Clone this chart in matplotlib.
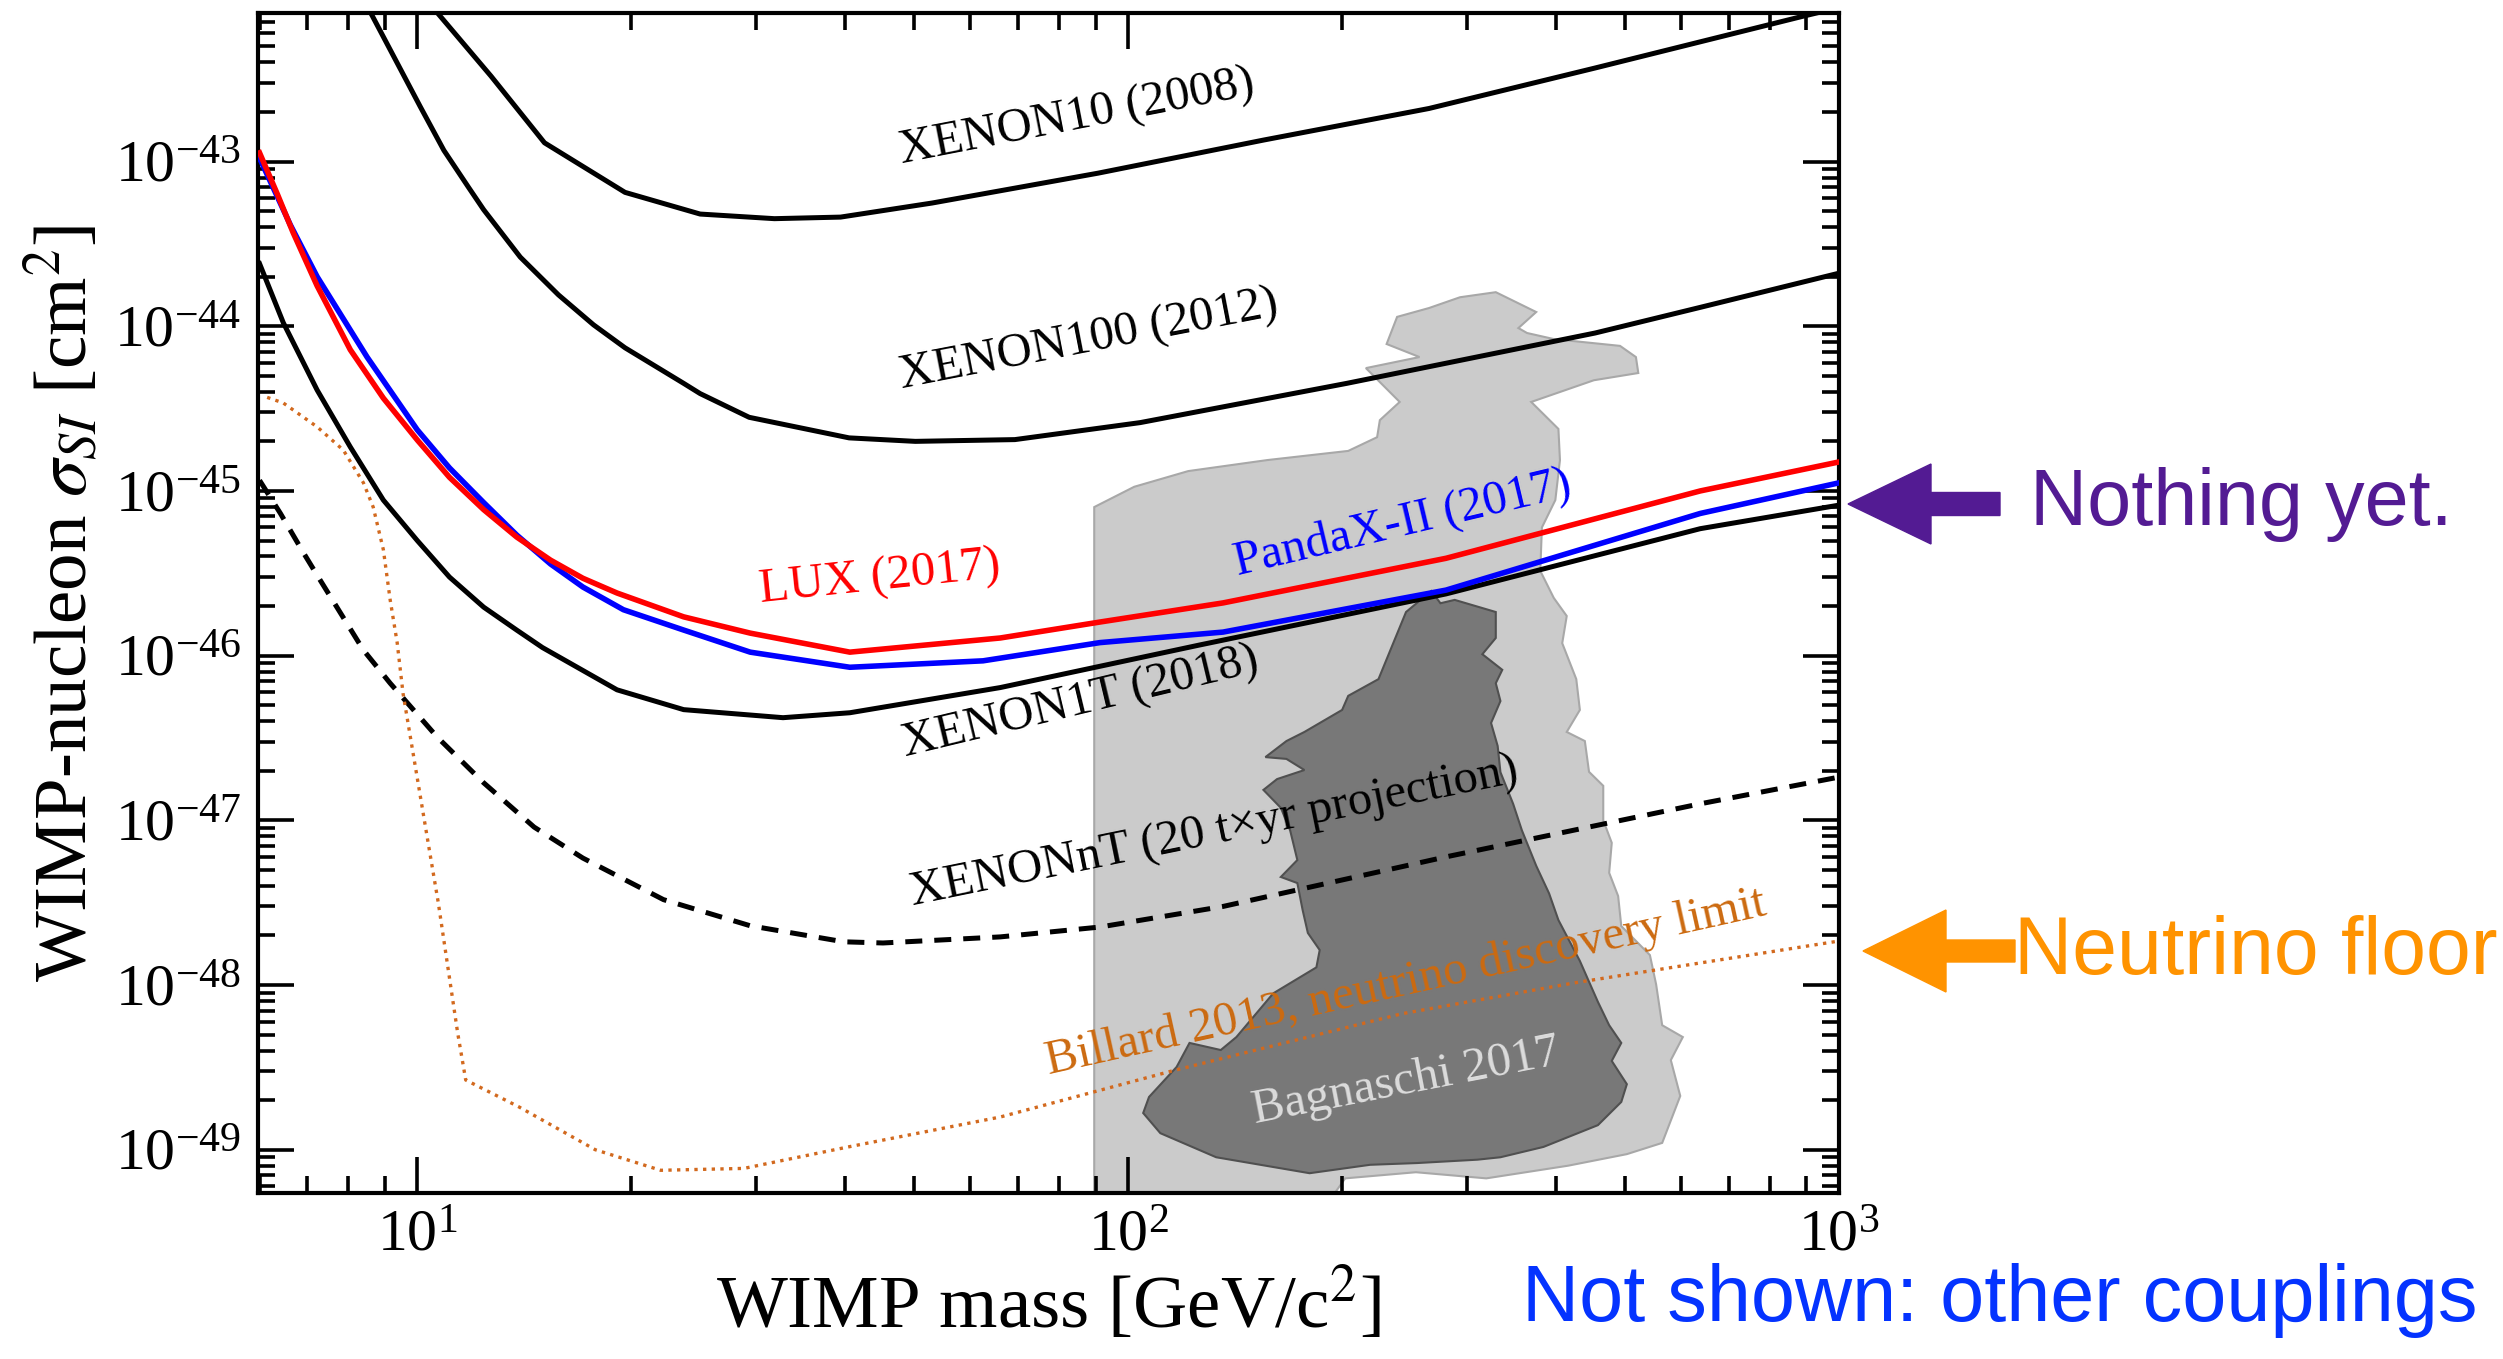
"""
plot.py - WIMP-nucleon spin-independent cross-section limits vs. WIMP mass.

Xenon experiment limits (XENON10/100/1T, LUX, PandaX-II), XENONnT projection,
the Billard 2013 neutrino floor and the Bagnaschi 2017 preferred regions.
Saves out.png (2503x1359).
"""

import matplotlib
matplotlib.use("Agg")
import matplotlib.pyplot as plt
from matplotlib.patches import Polygon, FancyArrow
from matplotlib.ticker import FixedLocator, LogLocator, NullFormatter

# ---------------------------------------------------------------------------
# Data (mass in GeV/c^2, cross-section in cm^2)
# ---------------------------------------------------------------------------

xenon10_mass = [10.2, 10.7, 12.7, 15.1, 19.6, 25.0, 31.8, 39.4, 53, 90.7, 155, 265, 454, 887, 1000]
xenon10_sigma = [1.2e-42, 7.9e-43, 3.3e-43, 1.3e-43, 6.5e-44, 4.8e-44, 4.5e-44, 4.6e-44, 5.6e-44,
                 8.5e-44, 1.35e-43, 2.1e-43, 3.7e-43, 7.6e-43, 8.6e-43]

xenon100_mass = [8.3, 8.6, 10.1, 10.9, 11.8, 12.4, 13.96, 15.8, 17.7, 19.6, 23.7, 25.0, 29.3, 40.5,
                 50.2, 69.3, 104, 203, 454, 637, 1000]
xenon100_sigma = [1.1e-42, 8e-43, 2.15e-43, 1.17e-43, 7e-44, 5.1e-44, 2.63e-44, 1.55e-44, 1.02e-44,
                  7.4e-45, 4.5e-45, 3.9e-45, 2.8e-45, 2.1e-45, 2.0e-45, 2.05e-45, 2.6e-45, 4.5e-45,
                  9.1e-45, 1.3e-44, 2.1e-44]

lux_mass = [6.0, 6.36, 6.69, 7.23, 8.05, 8.96, 10.0, 11.1, 12.4, 13.8, 15.4, 17.1, 19.1, 23.7, 29.4,
            40.6, 66.1, 91.3, 136, 280, 638, 1000]
lux_sigma = [1.13e-43, 6.3e-44, 3.7e-44, 1.76e-44, 7.2e-45, 3.66e-45, 2.04e-45, 1.21e-45, 7.7e-46,
             5.25e-46, 3.8e-46, 2.95e-46, 2.4e-46, 1.72e-46, 1.37e-46, 1.05e-46, 1.28e-46, 1.6e-46,
             2.09e-46, 3.9e-46, 1.0e-45, 1.5e-45]

pandax_mass = [6.0, 6.63, 7.23, 8.5, 10.0, 11.1, 12.4, 13.8, 15.4, 17.1, 19.5, 23.7, 29.4, 40.6,
               62.5, 91.3, 136, 280, 638, 1000]
pandax_sigma = [1.05e-43, 4.12e-44, 2.0e-44, 6.5e-45, 2.35e-45, 1.38e-45, 8.5e-46, 5.4e-46, 3.6e-46,
                2.61e-46, 1.9e-46, 1.43e-46, 1.05e-46, 8.5e-47, 9.3e-47, 1.2e-46, 1.39e-46, 2.5e-46,
                7.3e-46, 1.12e-45]

xenon1t_mass = [6.0, 6.48, 7.23, 8.05, 8.96, 10.0, 11.1, 12.4, 13.8, 15.0, 19.1, 23.7, 32.7, 40.6,
                66.1, 126, 280, 638, 1000]
xenon1t_sigma = [2.4e-44, 1.05e-44, 4.1e-45, 1.85e-45, 8.8e-46, 5.0e-46, 3.0e-46, 1.97e-46, 1.43e-46,
                 1.12e-46, 6.2e-47, 4.7e-47, 4.2e-47, 4.5e-47, 6.4e-47, 1.16e-46, 2.37e-46, 5.9e-46,
                 8.2e-46]

xenonnt_mass = [6.0, 6.42, 6.92, 7.23, 8.4, 9.16, 10.67, 12.4, 14.6, 17.1, 22.2, 29.4, 39.8, 45.2,
                66.1, 91.3, 136, 280, 638, 1000]
xenonnt_sigma = [1.16e-45, 7.3e-46, 4.2e-46, 3.08e-46, 1.08e-46, 6.8e-47, 3.2e-47, 1.69e-47, 9.1e-48,
                 5.9e-48, 3.3e-48, 2.29e-48, 1.83e-48, 1.8e-48, 1.96e-48, 2.25e-48, 3.0e-48, 6.0e-48,
                 1.26e-47, 1.83e-47]

billard_mass = [6.15, 6.48, 7.23, 7.87, 8.4, 8.67, 8.96, 9.16, 9.37, 9.55, 10.4, 10.7, 11.4, 11.7,
                13.9, 17.8, 22.0, 28.8, 40.4, 66.1, 115, 243, 424, 1000]
billard_sigma = [3.7e-45, 3.42e-45, 2.45e-45, 1.77e-45, 1.12e-45, 7.98e-46, 4.4e-46, 2.18e-46, 1.2e-46,
                 5.9e-47, 6.6e-48, 3.2e-48, 5.1e-49, 2.65e-49, 1.82e-49, 1.0e-49, 7.5e-50, 7.7e-50,
                 1.04e-49, 1.58e-49, 3.0e-49, 6.7e-49, 1.03e-48, 1.85e-48]

# Bagnaschi 2017 regions (outer = light, inner = dark)
bagnaschi_outer_mass = [89.6, 89.6, 102, 121.5, 157, 204, 224, 226, 241, 216, 257, 231, 239, 265, 293,
                        329, 375, 354, 364, 397, 492, 518, 522, 452, 369, 403, 405, 399, 382, 380,
                        397, 414, 408, 427, 432, 414, 439, 445, 466, 466, 479, 475, 489, 494, 542,
                        553, 564, 603, 580, 598, 564, 503, 416, 319, 254, 202, 177]
bagnaschi_outer_sigma = [3e-50, 7.98e-46, 1.06e-45, 1.32e-45, 1.54e-45, 1.75e-45, 2.12e-45, 2.69e-45,
                         3.47e-45, 5.57e-45, 6.5e-45, 7.8e-45, 1.14e-44, 1.29e-44, 1.5e-44, 1.61e-44,
                         1.22e-44, 9.75e-45, 9.1e-45, 8.36e-45, 7.6e-45, 6.5e-45, 5.2e-45, 4.7e-45,
                         3.47e-45, 2.38e-45, 1.54e-45, 8.8e-46, 6.0e-46, 3.27e-46, 2.24e-46, 1.74e-46,
                         1.19e-46, 7.2e-47, 4.68e-47, 3.44e-47, 3.03e-47, 1.97e-47, 1.62e-47, 1.0e-47,
                         7.3e-48, 4.8e-48, 3.47e-48, 2.28e-48, 1.52e-48, 1.01e-48, 5.7e-49, 4.83e-49,
                         3.5e-49, 2.12e-49, 1.1e-49, 9.4e-50, 8.0e-50, 6.7e-50, 7.3e-50, 6.7e-50, 3e-50]

bagnaschi_inner_mass = [267, 275, 288, 329, 329, 315, 336, 329, 334, 324, 331, 334, 348, 358, 375,
                        391, 403, 432, 458, 475, 494, 479, 503, 494, 458, 384, 334, 310, 255, 219,
                        180, 133, 111, 105, 107, 117, 122, 135, 142, 160, 184, 186, 179, 176, 173,
                        164, 173, 169, 164, 155, 162, 177, 167, 156, 167, 177, 200, 204, 225, 236, 246]
bagnaschi_inner_sigma = [2.47e-46, 2.08e-46, 2.18e-46, 1.84e-46, 1.28e-46, 1.02e-46, 8.2e-47, 6.8e-47,
                         5.3e-47, 3.9e-47, 2.83e-47, 1.96e-47, 1.26e-47, 8.7e-48, 5.3e-48, 3.6e-48,
                         2.48e-48, 1.4e-48, 7.9e-49, 5.7e-49, 4.45e-49, 3.46e-49, 2.5e-49, 1.95e-49,
                         1.41e-49, 1.04e-49, 9.0e-50, 8.7e-50, 8.3e-50, 8.1e-50, 7.2e-50, 9.0e-50,
                         1.26e-49, 1.67e-49, 2.09e-49, 3.18e-49, 4.45e-49, 4.03e-49, 4.83e-49, 8.9e-49,
                         1.28e-48, 1.63e-48, 2.07e-48, 2.85e-48, 4.16e-48, 4.53e-48, 5.74e-48, 8.7e-48,
                         1.19e-47, 1.53e-47, 1.78e-47, 2.02e-47, 2.36e-47, 2.42e-47, 3.03e-47, 3.44e-47,
                         4.68e-47, 5.7e-47, 7.2e-47, 1.19e-46, 1.84e-46]

# Curve labels: text, (mass, sigma) centre, rotation, colour
curve_labels = [
    ("XENON10 (2008)", 84.7, 1.84e-43, 11, "black"),
    ("XENON100 (2012)", 88.1, 8.2e-45, 11, "black"),
    ("LUX (2017)", 44.8, 2.96e-46, 6, "red"),
    ("PandaX-II (2017)", 243, 6.4e-46, 13.4, "blue"),
    ("XENON1T (2018)", 85.6, 5.15e-47, 13.5, "black"),
    ("XENONnT (20 t\u00d7yr projection)", 132, 8.4e-48, 11.5, "black"),
    ("Billard 2013, neutrino discovery limit", 246, 1.03e-48, 12.5, "#cc6a10"),
    ("Bagnaschi 2017", 246, 2.58e-49, 11, "#dcdcdc"),
]

x_major = [10, 100, 1000]
y_major = [1e-49, 1e-48, 1e-47, 1e-46, 1e-45, 1e-44, 1e-43]

XLIM = (5.97, 1000)
YLIM = (5.46e-50, 7.98e-43)

# ---------------------------------------------------------------------------
# Figure
# ---------------------------------------------------------------------------

plt.rcParams["font.family"] = ["Liberation Serif", "DejaVu Serif"]
plt.rcParams["mathtext.fontset"] = "stix"

W, H, DPI = 2503, 1359, 100
fig = plt.figure(figsize=(W / DPI, H / DPI), dpi=DPI)
ax = fig.add_axes([258 / W, 1 - 1193 / H, (1839 - 258) / W, (1193 - 13) / H])

ax.set_xscale("log")
ax.set_yscale("log")
ax.set_xlim(*XLIM)
ax.set_ylim(*YLIM)

# Bagnaschi regions
ax.add_patch(Polygon(list(zip(bagnaschi_outer_mass, bagnaschi_outer_sigma)), closed=True,
                     facecolor="#cbcbcb", edgecolor="#a8a8a8", lw=1.5, zorder=1))
ax.add_patch(Polygon(list(zip(bagnaschi_inner_mass, bagnaschi_inner_sigma)), closed=True,
                     facecolor="#787878", edgecolor="#505050", lw=1.5, zorder=2))

# Limit curves
ax.plot(xenon10_mass, xenon10_sigma, color="black", lw=3.6, zorder=3)
ax.plot(xenon100_mass, xenon100_sigma, color="black", lw=3.6, zorder=3)
ax.plot(xenon1t_mass, xenon1t_sigma, color="black", lw=3.6, zorder=3)
ax.plot(pandax_mass, pandax_sigma, color="blue", lw=4, zorder=4)
ax.plot(lux_mass, lux_sigma, color="red", lw=4, zorder=5)
ax.plot(xenonnt_mass, xenonnt_sigma, color="black", lw=3.6, dashes=(3.4, 2.4), zorder=3)
ax.plot(billard_mass, billard_sigma, color="#d2691e", lw=2.4, dashes=(1.0, 1.6), zorder=3)

for text, m, s, rot, col in curve_labels:
    ax.text(m, s, text, rotation=rot, rotation_mode="anchor", ha="center", va="center",
            fontsize=35, color=col, zorder=6)

# Ticks and spines
ax.xaxis.set_major_locator(FixedLocator(x_major))
ax.xaxis.set_minor_locator(LogLocator(base=10, subs=range(2, 10), numticks=20))
ax.yaxis.set_major_locator(FixedLocator(y_major))
ax.yaxis.set_minor_locator(LogLocator(base=10, subs=range(2, 10), numticks=20))
ax.xaxis.set_minor_formatter(NullFormatter())
ax.yaxis.set_minor_formatter(NullFormatter())
ax.tick_params(which="both", direction="in", top=True, right=True, width=2.6, labelsize=43)
ax.tick_params(which="major", length=26, pad=12)
ax.tick_params(which="minor", length=12.5)
for sp in ax.spines.values():
    sp.set_linewidth(3)

ax.set_xlabel("WIMP mass [GeV/c$^2$]", fontsize=54, labelpad=2)
ax.set_ylabel(r"WIMP-nucleon $\sigma_{SI}$ [cm$^2$]", fontsize=54, labelpad=8)

# Right-hand annotations
sans = ["Liberation Sans", "DejaVu Sans"]
fig.text(2030 / W, 1 - 504 / H, "Nothing yet.", color="#531b93", fontsize=57,
         family=sans, ha="left", va="center")
fig.text(2014 / W, 1 - 953 / H, "Neutrino floor", color="#ff9300", fontsize=58,
         family=sans, ha="left", va="center")
fig.text(2477 / W, 1 - 1301 / H, "Not shown: other couplings", color="#0433ff", fontsize=57,
         family=sans, ha="right", va="center")

fig.add_artist(FancyArrow(2000 / DPI, (H - 504) / DPI, -152 / DPI, 0, width=0.23,
                          head_width=0.80, head_length=0.83, length_includes_head=True,
                          color="#531b93", transform=fig.dpi_scale_trans))
fig.add_artist(FancyArrow(2015 / DPI, (H - 951) / DPI, -152 / DPI, 0, width=0.22,
                          head_width=0.82, head_length=0.83, length_includes_head=True,
                          color="#ff9300", transform=fig.dpi_scale_trans))

fig.savefig("out.png", dpi=DPI)
